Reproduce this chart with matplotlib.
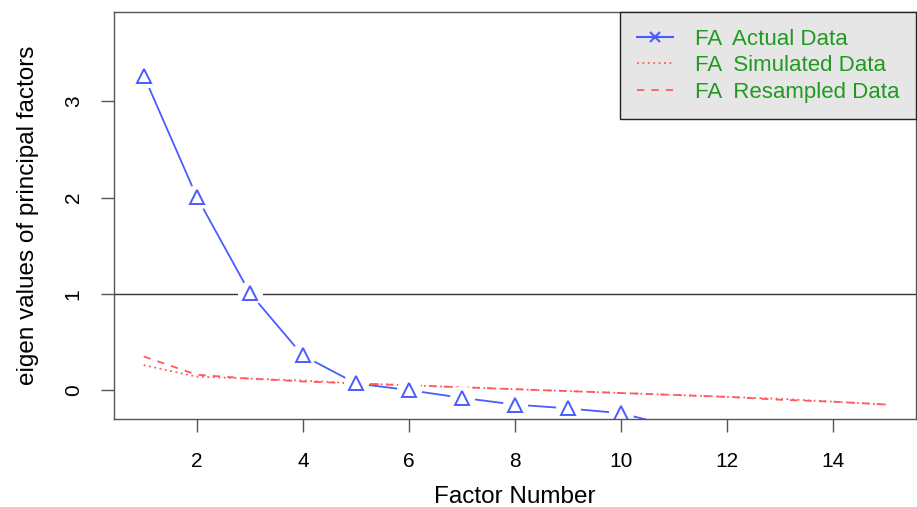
import numpy as np
import matplotlib.pyplot as plt
from matplotlib.lines import Line2D

plt.rcParams['font.family'] = ['Liberation Sans', 'DejaVu Sans']

# factor numbers and eigen values
factors = list(range(1, 16))
actual = [3.27, 2.01, 1.01, 0.36, 0.07, 0.00, -0.08, -0.15, -0.19, -0.24,
          -0.38, -0.44, -0.49, -0.54, -0.60]
simulated = [0.26, 0.14, 0.12, 0.10, 0.07, 0.05, 0.03, 0.01, -0.01, -0.03,
             -0.05, -0.07, -0.09, -0.12, -0.15]
resampled = [0.35, 0.16, 0.12, 0.09, 0.07, 0.05, 0.03, 0.01, -0.01, -0.03,
             -0.05, -0.07, -0.10, -0.12, -0.15]
x_ticks = [2, 4, 6, 8, 10, 12, 14]
y_ticks = [0, 1, 2, 3]
legend_labels = ["FA  Actual Data", "FA  Simulated Data", "FA  Resampled Data"]

blue = '#4a5cff'
red = '#ff5a5a'
green = '#1f9a1f'

fig = plt.figure(figsize=(9.17, 5.07), dpi=100)
ax = fig.add_axes([114 / 917, 88 / 507, 802 / 917, 407 / 507])

# actual data: line with gaps around open triangles (R type="b")
ax.plot(factors, actual, color=blue, lw=1.3, zorder=2)
ax.plot(factors, actual, ls='none', marker='o', ms=17, mfc='white', mec='white', zorder=3)
ax.plot(factors, actual, ls='none', marker='^', ms=10, mfc='none', mec=blue, mew=1.4, zorder=4)

ax.plot(factors, simulated, color=red, lw=1.3, ls=(0, (1, 2)), zorder=2)
ax.plot(factors, resampled, color=red, lw=1.3, ls=(0, (4, 4)), zorder=2)

ax.axhline(1, color='#333333', lw=1.0, zorder=1)

ax.set_xlim(0.44, 15.56)
ax.set_ylim(-0.30, 3.93)
ax.set_xticks(x_ticks)
ax.set_yticks(y_ticks)
ax.tick_params(labelsize=15, length=9.5, width=1, color='#555555')
ax.tick_params(axis='x', pad=14)
ax.tick_params(axis='y', pad=13)
for lab in ax.get_yticklabels():
    lab.set_rotation(90)
    lab.set_va('center')
for s in ax.spines.values():
    s.set_color('#555555')
    s.set_linewidth(1.0)
    s.set_zorder(6)

ax.set_xlabel('Factor Number', fontsize=17.5, labelpad=11)
ax.set_ylabel('eigen values of principal factors', fontsize=17.5, labelpad=18)

handles = [
    Line2D([], [], color=blue, lw=1.5, marker='x', ms=7, mew=1.5),
    Line2D([], [], color=red, lw=1.3, ls=(0, (1, 2))),
    Line2D([], [], color=red, lw=1.3, ls=(0, (4, 4))),
]
leg = ax.legend(handles, legend_labels, loc='upper right', fontsize=16,
                frameon=True, fancybox=False, borderaxespad=0,
                handlelength=1.6, handletextpad=1.0, labelspacing=0.25,
                borderpad=0.75, labelcolor=green)
leg.get_frame().set_facecolor('#e6e6e6')
leg.get_frame().set_edgecolor('#222222')
leg.get_frame().set_alpha(1)
leg.get_frame().set_linewidth(1.0)
leg.set_zorder(7)

fig.savefig('out.png', dpi=100)
